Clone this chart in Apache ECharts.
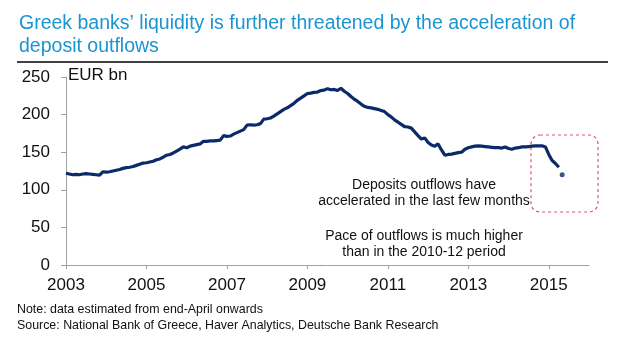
<!DOCTYPE html>
<html>
<head>
<meta charset="utf-8">
<script src="https://cdn.jsdelivr.net/npm/echarts@6/dist/echarts.min.js"></script>
<style>html,body{margin:0;padding:0;background:#fff}#c{width:620px;height:344px}</style>
</head>
<body>
<div id="c"></div>
<script>
// Monthly deposits, EUR bn, Jan 2003 .. Apr 2015
const startYear = 2003;
const deposits = [
  // 2003
  122, 121, 120, 120.5, 120, 121, 121.5, 121, 120.5, 120, 119.5, 124,
  // 2004
  123.5, 124, 125, 126, 127, 128.5, 129.5, 130, 131, 132.5, 134, 135.5,
  // 2005
  136, 137, 138, 140, 141, 143.5, 146, 147, 149, 151.5, 154, 157,
  // 2006
  156, 158, 159, 160, 161, 164.5, 164.5, 165, 165, 165.5, 166, 172,
  // 2007
  171, 171.5, 174, 176, 178, 180, 186, 186.5, 186, 186.5, 188, 194,
  // 2008
  194.5, 195.5, 198, 201, 204, 207, 209, 212, 215, 219, 222, 225,
  // 2009
  228, 228.5, 229.5, 230, 232, 232.5, 234.5, 233, 233.5, 232, 235, 231,
  // 2010
  228, 224, 220.5, 217.5, 214, 211, 209.5, 209, 208, 207, 205.5, 204,
  // 2011
  200, 197, 193, 190, 187, 184, 183.5, 182, 177, 172, 167.5, 169,
  // 2012
  163, 159.5, 158, 161, 153, 146, 147, 147.5, 148.5, 149.5, 150, 154,
  // 2013
  156, 157, 158, 158.5, 158, 157.5, 157, 156.5, 156, 156, 155.5, 157,
  // 2014
  155, 154, 155.5, 156, 157, 157, 157.5, 158, 158.5, 158.5, 158.5, 157,
  // 2015
  147, 139, 135, 130
];
// Estimated point (May 2015)
const estimatedMonth = ['2015-05'];
const estimatedValue = [120];
const xTickYears = [2003, 2005, 2007, 2009, 2011, 2013, 2015];
const yTicks = [0, 50, 100, 150, 200, 250];

const lineData = deposits.map((v, i) => [startYear + i / 12, v]);
const estData = estimatedMonth.map((m, i) => {
  const [y, mo] = m.split('-').map(Number);
  return [y + (mo - 1) / 12, estimatedValue[i]];
});

const chart = echarts.init(document.getElementById('c'), null, {renderer: 'canvas'});
const font = 'Liberation Sans, Arial, sans-serif';
chart.setOption({
  animation: false,
  grid: {left: 66, right: 31, top: 77, bottom: 79, containLabel: false},
  xAxis: {
    type: 'value', min: 2003, max: 2016,
    axisLine: {show: true, lineStyle: {color: '#a0a0a0', width: 1}},
    axisTick: {show: true, length: 4, lineStyle: {color: '#a0a0a0'}, customValues: xTickYears},
    axisLabel: {customValues: xTickYears, color: '#111', fontSize: 17, fontFamily: font, margin: 12,
      formatter: v => String(v)},
    splitLine: {show: false}
  },
  yAxis: {
    type: 'value', min: 0, max: 250, interval: 50,
    axisLine: {show: true, lineStyle: {color: '#a0a0a0', width: 1}},
    axisTick: {show: true, length: 5, lineStyle: {color: '#a0a0a0'}},
    axisLabel: {color: '#111', fontSize: 17, fontFamily: font, margin: 16},
    splitLine: {show: false}
  },
  series: [
    {type: 'line', data: lineData, showSymbol: false, smooth: false,
     lineStyle: {color: '#0b2a69', width: 3.2}, itemStyle: {color: '#0b2a69'}},
    {type: 'scatter', data: estData, symbolSize: 5, itemStyle: {color: '#0b2a69'}}
  ],
  graphic: [
    {type: 'text', left: 19, top: 14, style: {text: 'Greek banks’ liquidity is further threatened by the acceleration of', fill: '#1b94d2', font: '19.5px ' + font}},
    {type: 'text', left: 19, top: 37, style: {text: 'deposit outflows', fill: '#1b94d2', font: '19.5px ' + font}},
    {type: 'line', shape: {x1: 17, y1: 62, x2: 608, y2: 62}, style: {stroke: '#000', lineWidth: 1.5}},
    {type: 'text', left: 68, top: 67, style: {text: 'EUR bn', fill: '#111', font: '17px ' + font}},
    {type: 'text', x: 424, y: 193, style: {text: 'Deposits outflows have\naccelerated in the last few months', fill: '#111', font: '14px ' + font, align: 'center', verticalAlign: 'middle', lineHeight: 16.5}},
    {type: 'text', x: 424, y: 244, style: {text: 'Pace of outflows is much higher\nthan in the 2010-12 period', fill: '#111', font: '14px ' + font, align: 'center', verticalAlign: 'middle', lineHeight: 16.5}},
    {type: 'rect', shape: {x: 531, y: 135, width: 67, height: 77, r: 9}, style: {fill: 'none', stroke: '#e25563', lineWidth: 1.2, lineDash: [3, 3]}},
    {type: 'text', left: 17, top: 304, style: {text: 'Note: data estimated from end-April onwards', fill: '#111', font: '12.4px ' + font}},
    {type: 'text', left: 17, top: 320, style: {text: 'Source: National Bank of Greece, Haver Analytics, Deutsche Bank Research', fill: '#111', font: '12.4px ' + font}}
  ]
});
</script>
</body>
</html>
